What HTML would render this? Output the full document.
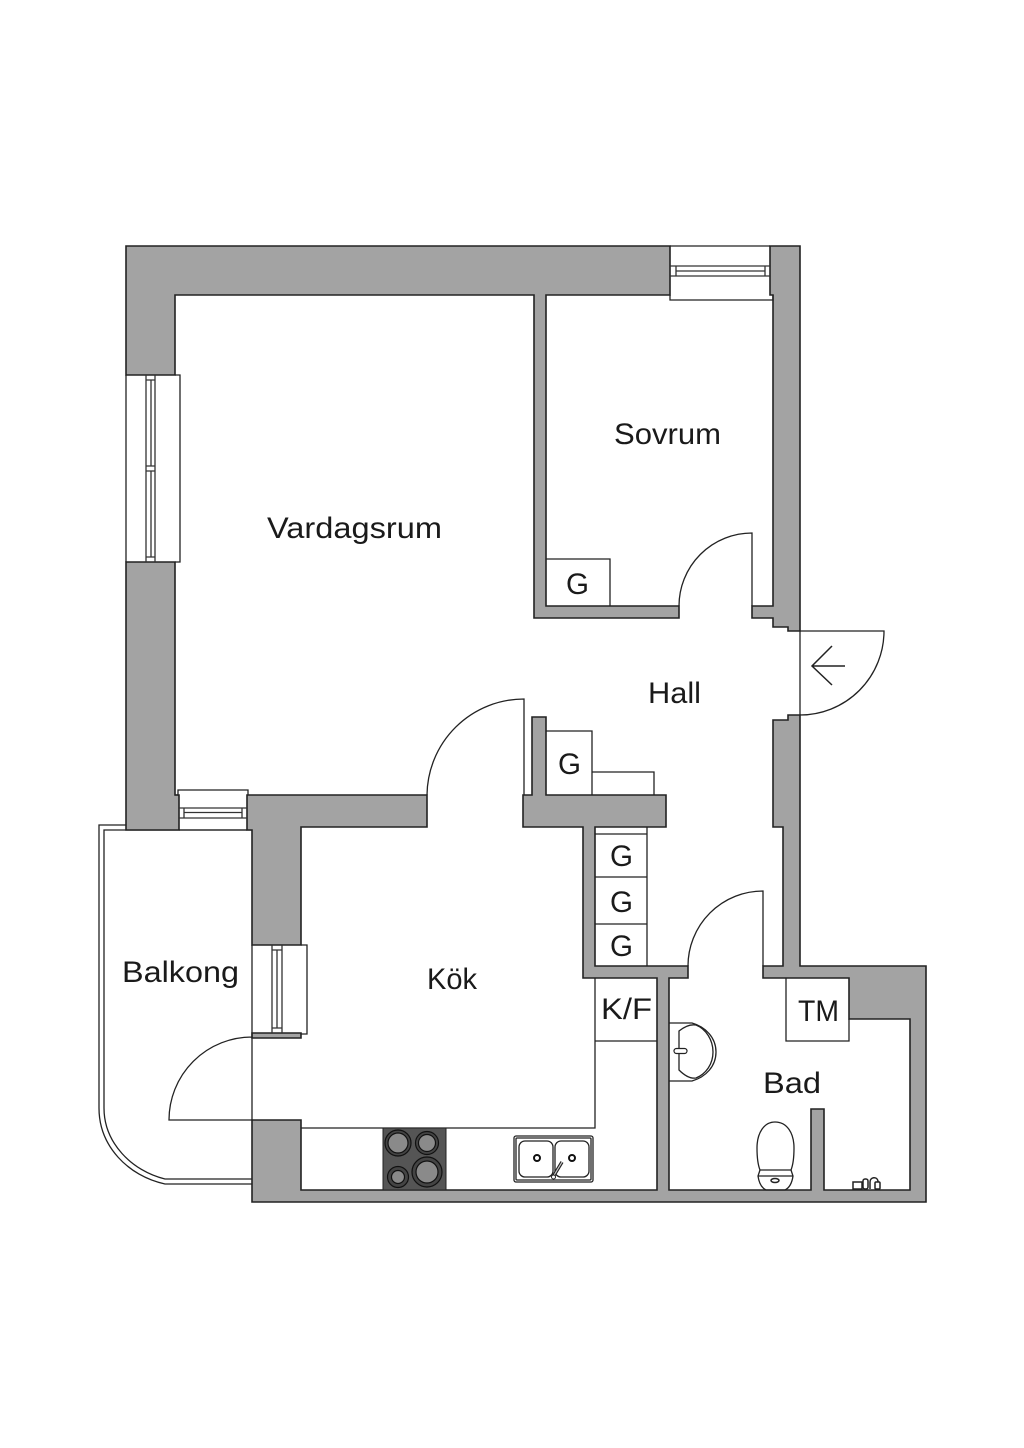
<!DOCTYPE html>
<html>
<head>
<meta charset="utf-8">
<style>
html,body{margin:0;padding:0;background:#fff}
svg{display:block}
.w{fill:#a3a3a3;stroke:#222;stroke-width:1.6;stroke-linejoin:miter}
.l{fill:none;stroke:#222;stroke-width:1.3}
.g{fill:none;stroke:#333;stroke-width:1.3}
.b{fill:#fff;stroke:#222;stroke-width:1.2}
text{font-family:"Liberation Sans",sans-serif;font-size:30px;fill:#1a1a1a}
</style>
</head>
<body>
<svg width="1024" height="1448" viewBox="0 0 1024 1448" xmlns="http://www.w3.org/2000/svg">
<rect width="1024" height="1448" fill="#fff"/>

<!-- balcony -->
<path class="l" d="M126 825H99V1108C99 1146 128 1176 165 1184H252"/>
<path class="l" d="M252 830H104V1108C104 1143 132 1171 165 1179H252"/>

<!-- walls -->
<path class="w" d="M126 375V246H670V295H546V606H679V618H534V295H175V375Z"/>
<path class="w" d="M770 246H800V631H788V627H773V618H752V606H773V295H770Z"/>
<path class="w" d="M126 562H175V795H179V830H126Z"/>
<path class="w" d="M247 795H427V827H301V945H252V830H247Z"/>
<path class="w" d="M252 1033H301V1038H252Z"/>
<path class="w" d="M252 1120H301V1190H657V978H583V827H523V795H532V717H546V795H666V827H595V966H688V978H669V1190H811V1109H824V1190H910V1019H849V978H763V966H783V827H773V720H788V715H800V966H926V1202H252Z"/>

<!-- left window -->
<path class="l" d="M126 375V562M175 375H180V562H175"/>
<path class="g" d="M146 375V562M155 375V562M151 380V466M151 471V557M146 380H155M146 466H155M146 471H155M146 557H155"/>

<!-- top window -->
<path class="l" d="M670 246H770M670 295V300H773V295"/>
<path class="g" d="M670 266H770M670 276H770M676 271H765M676 266V276M765 266V276"/>

<!-- balcony-side window -->
<path class="l" d="M175 795H178V790H248V795M179 830H247"/>
<path class="g" d="M179 808H247M179 818H247M184 812.5H242M184 808V818M242 808V818"/>

<!-- kitchen window -->
<path class="l" d="M252 945V1033M301 945H307V1034H301"/>
<path class="g" d="M272 945V1033M282 945V1033M277 950V1028M272 950H282M272 1028H282"/>

<!-- door lines -->
<path class="l" d="M252 1033V1120H169A83 83 0 0 1 252 1037"/>
<path class="l" d="M524 795V699A97 97 0 0 0 427 795"/>
<path class="l" d="M752 606V533A73 73 0 0 0 679 606"/>
<path class="l" d="M763 966V891A75 75 0 0 0 688 966"/>
<path class="l" d="M800 715V631H884A84 84 0 0 1 800 715"/>
<path class="l" style="stroke-width:1.5" d="M845 666H812M832 646L812 666L832 685"/>

<!-- storage -->
<path class="l" d="M546 559H610V606M546 731H592V795M592 772H654V795"/>
<path class="l" d="M595 834H647M595 877H647M595 924H647M647 827V966"/>
<path class="l" d="M595 978V1128H301M595 1041H657"/>
<path class="l" d="M786 978V1041H849V1019"/>

<!-- hob -->
<rect x="383" y="1128" width="63" height="62" fill="#555" stroke="#222"/>
<g stroke="#111" stroke-width="1.2">
<circle cx="398" cy="1143" r="13" fill="#444"/><circle cx="398" cy="1143" r="10" fill="#8a8a8a"/>
<circle cx="427" cy="1143" r="11.5" fill="#444"/><circle cx="427" cy="1143" r="8.5" fill="#8a8a8a"/>
<circle cx="398" cy="1177" r="10.5" fill="#444"/><circle cx="398" cy="1177" r="6.5" fill="#8a8a8a"/>
<circle cx="427" cy="1172" r="15" fill="#444"/><circle cx="427" cy="1172" r="11" fill="#8a8a8a"/>
</g>

<!-- sink -->
<rect class="l" x="514" y="1136" width="79" height="46" rx="2"/>
<rect class="l" x="516" y="1138" width="75" height="42" rx="1"/>
<rect class="l" x="519" y="1141" width="34" height="36" rx="6"/>
<rect class="l" x="555" y="1141" width="34" height="36" rx="6"/>
<circle cx="537" cy="1158" r="3" fill="#fff" stroke="#111" stroke-width="2"/>
<circle cx="572" cy="1158" r="3" fill="#fff" stroke="#111" stroke-width="2"/>
<path d="M553 1177L562 1162" stroke="#222" stroke-width="3.4"/>
<path d="M553 1177L562 1162" stroke="#ccc" stroke-width="1.2"/>
<circle cx="553.5" cy="1177" r="2" fill="#fff" stroke="#222"/>

<!-- basin -->
<path class="l" d="M669 1023H692C706 1027 716 1038 716 1052C716 1066 706 1077 692 1081H669"/>
<path class="l" d="M679 1031C684 1027 690 1024 696 1025C706 1029 713 1040 713 1052C713 1064 706 1074 696 1078C690 1079 684 1075 679 1070Z"/>
<rect class="b" x="674" y="1048.500" width="13" height="5" rx="2.500"/>

<!-- toilet -->
<path class="l" d="M775 1122C764 1122 757 1133 757 1148C757 1158 758 1165 760 1170H791C793 1165 794 1158 794 1148C794 1133 787 1122 775 1122Z"/>
<path class="l" d="M760 1170L758 1176C759 1183 762 1188 766 1190H785C789 1188 792 1183 793 1176L791 1170M758 1176H793"/>
<ellipse cx="775" cy="1180.500" rx="4" ry="2" fill="#fff" stroke="#222" stroke-width="1.500"/>

<!-- fixture -->
<g fill="#fff" stroke="#222" stroke-width="1.500">
<rect x="853" y="1182" width="9" height="7"/>
<rect x="863" y="1179" width="5" height="10" rx="2"/>
<path d="M870 1189V1182C870 1177 877 1176 878 1181V1183"/>
<rect x="875" y="1182" width="5" height="7" rx="1"/>
</g>

<!-- labels -->
<text x="267" y="538" textLength="175" lengthAdjust="spacingAndGlyphs">Vardagsrum</text>
<text x="614" y="444" textLength="107" lengthAdjust="spacingAndGlyphs">Sovrum</text>
<text x="648" y="703" textLength="53" lengthAdjust="spacingAndGlyphs">Hall</text>
<text x="122" y="982" textLength="117" lengthAdjust="spacingAndGlyphs">Balkong</text>
<text x="427" y="989" textLength="50" lengthAdjust="spacingAndGlyphs">Kök</text>
<text x="763" y="1093" textLength="58" lengthAdjust="spacingAndGlyphs">Bad</text>
<text x="601" y="1019" textLength="51" lengthAdjust="spacingAndGlyphs">K/F</text>
<text x="798" y="1021" textLength="41" lengthAdjust="spacingAndGlyphs">TM</text>
<text x="566" y="594" textLength="23" lengthAdjust="spacingAndGlyphs">G</text>
<text x="558" y="774" textLength="23" lengthAdjust="spacingAndGlyphs">G</text>
<text x="610" y="866" textLength="23" lengthAdjust="spacingAndGlyphs">G</text>
<text x="610" y="912" textLength="23" lengthAdjust="spacingAndGlyphs">G</text>
<text x="610" y="956" textLength="23" lengthAdjust="spacingAndGlyphs">G</text>
</svg>
</body>
</html>
